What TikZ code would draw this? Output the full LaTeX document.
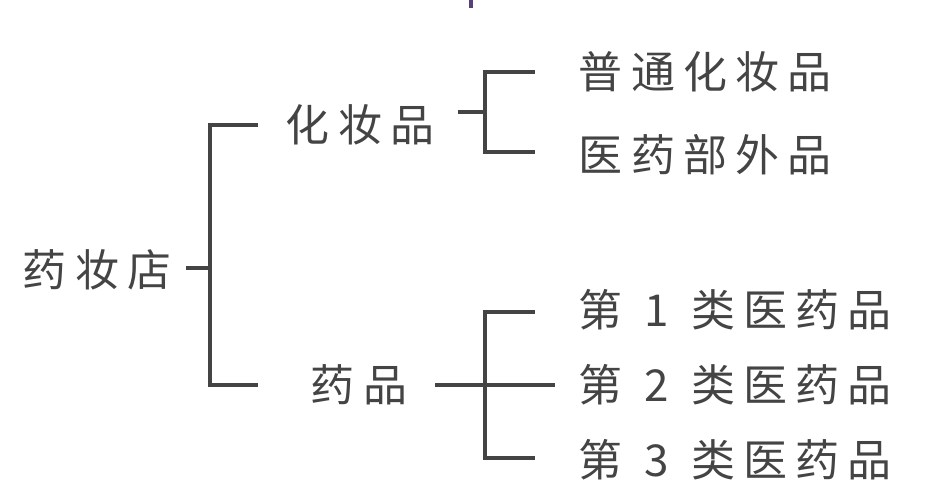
\documentclass[tikz,border=0pt]{standalone}
\usepackage{fontspec}
\newfontfamily\cjk[LetterSpace=19]{Noto Sans CJK SC}
\definecolor{ink}{HTML}{444444}
\definecolor{tickpurple}{HTML}{5A3F7A}
\newcommand\gp{\hspace{0.5em}}

\begin{document}
\begin{tikzpicture}[x=0.01cm,y=-0.01cm]

\tikzset{lbl/.style={text=ink,font=\cjk\fontsize{12.5pt}{13pt}\selectfont,inner sep=0pt,anchor=west},
         ln/.style={ink,line width=1pt}}

\useasboundingbox (0,0) rectangle (944,502);
\fill[tickpurple] (469,0) rectangle (473,8);

\node[lbl] (shop) at (22,270) {药妆店};
\node[lbl] (cos) at (285,125) {化妆品};
\node[lbl] (med) at (310,385) {药品};
\node[lbl] (c1) at (578,72) {普通化妆品};
\node[lbl] (c2) at (578,155) {医药部外品};
\node[lbl] (m1) at (578,310) {第\gp{}1\gp{}类医药品};
\node[lbl] (m2) at (578,385) {第\gp{}2\gp{}类医药品};
\node[lbl] (m3) at (578,460) {第\gp{}3\gp{}类医药品};

% first level
\coordinate (s) at (210,268);
\draw[ln] (186,268)--(s);
\draw[ln] (258,125)-|(210,385)--(258,385);

% cosmetics
\draw[ln] (458,112)--(485,112);
\draw[ln] (535,72)-|(485,152)--(535,152);

% medicines
\draw[ln] (435,385)--(555,385);
\draw[ln] (535,312)-|(485,458)--(535,458);

\end{tikzpicture}
\end{document}
